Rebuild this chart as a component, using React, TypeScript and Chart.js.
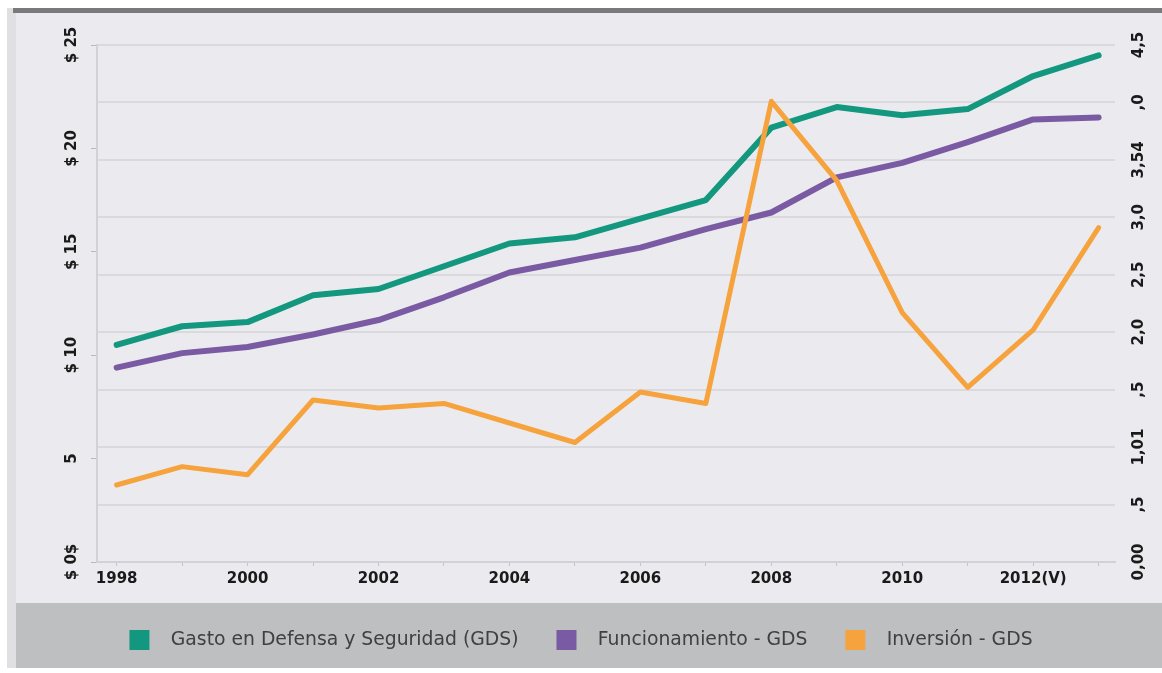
import React, { useEffect, useRef } from 'react';
import { Chart, registerables } from 'chart.js';

Chart.register(...registerables);

// ---- data ----
const years = [1998, 1999, 2000, 2001, 2002, 2003, 2004, 2005, 2006, 2007, 2008, 2009, 2010, 2011, 2012, 2013];
const gastoDefensaSeguridad = [10.5, 11.4, 11.6, 12.9, 13.2, 14.3, 15.4, 15.7, 16.6, 17.5, 21.0, 22.0, 21.6, 21.9, 23.5, 24.5];
const funcionamiento = [9.4, 10.1, 10.4, 11.0, 11.7, 12.8, 14.0, 14.6, 15.2, 16.1, 16.9, 18.6, 19.3, 20.3, 21.4, 21.5];
const inversion = [0.67, 0.83, 0.76, 1.41, 1.34, 1.38, 1.21, 1.04, 1.48, 1.38, 4.01, 3.32, 2.17, 1.52, 2.02, 2.91];

const seriesLabels = ['Gasto en Defensa y Seguridad (GDS)', 'Funcionamiento - GDS', 'Inversión - GDS'];

const xLabelYears = [1998, 2000, 2002, 2004, 2006, 2008, 2010, 2012];
const xLabels = ['1998', '2000', '2002', '2004', '2006', '2008', '2010', '2012(V)'];

const leftTickValues = [0, 5, 10, 15, 20, 25];
const leftTickLabels = ['$ 0$', '5', '$ 10', '$ 15', '$ 20', '$ 25'];

const rightTickValues = [0, 0.5, 1, 1.5, 2, 2.5, 3, 3.5, 4, 4.5];
const rightTickLabels = ['0,00', ',5', '1,01', ',5', '2,0', '2,5', '3,0', '3,54', ',0', '4,5'];

// ---- styles ----
const GREEN = '#13977e';
const PURPLE = '#7a5aa2';
const ORANGE = '#f6a23d';

const bgPlugin = {
  id: 'panelBackground',
  beforeDraw(chart: any) {
    const { ctx, width, height } = chart;
    ctx.save();
    ctx.fillStyle = '#ffffff';
    ctx.fillRect(0, 0, width, height);
    ctx.fillStyle = '#ebebef';
    ctx.fillRect(7, 8, width - 7, 600);
    ctx.fillStyle = '#e0e0e2';
    ctx.fillRect(7, 8, 9, 660);
    ctx.fillStyle = '#7a7a7a';
    ctx.fillRect(13, 8, width - 13, 5);
    ctx.fillStyle = '#bdbfc1';
    ctx.fillRect(16, 603, width - 16, 65);
    ctx.restore();
  },
};

export default function App() {
  const canvasRef = useRef<HTMLCanvasElement | null>(null);

  useEffect(() => {
    if (!canvasRef.current) return;
    const mk = (vals: number[]) => years.map((x, i) => ({ x, y: vals[i] }));
    const tickFont = { family: 'DejaVu Sans', size: 15, weight: 'bold' as const };

    const chart = new Chart(canvasRef.current, {
      type: 'line',
      data: {
        datasets: [
          {
            label: seriesLabels[0],
            data: mk(gastoDefensaSeguridad),
            borderColor: GREEN,
            backgroundColor: GREEN,
            borderWidth: 6,
            yAxisID: 'y',
            order: 1,
          },
          {
            label: seriesLabels[1],
            data: mk(funcionamiento),
            borderColor: PURPLE,
            backgroundColor: PURPLE,
            borderWidth: 6,
            yAxisID: 'y',
            order: 2,
          },
          {
            label: seriesLabels[2],
            data: mk(inversion),
            borderColor: ORANGE,
            backgroundColor: ORANGE,
            borderWidth: 5,
            yAxisID: 'y1',
            order: 0,
          },
        ],
      },
      options: {
        responsive: false,
        animation: false,
        events: [],
        layout: { padding: { top: 45, left: 0, right: 0, bottom: 13 } },
        elements: {
          point: { radius: 0 },
          line: { tension: 0, borderJoinStyle: 'round', borderCapStyle: 'round' },
        },
        plugins: {
          tooltip: { enabled: false },
          legend: {
            position: 'bottom',
            labels: {
              boxWidth: 20,
              boxHeight: 20,
              padding: 38,
              color: '#404040',
              font: { family: 'DejaVu Sans', size: 18.8 },
              sort: (a: any, b: any) => a.datasetIndex - b.datasetIndex,
              generateLabels: (c: any) => {
                const items = Chart.defaults.plugins.legend.labels.generateLabels(c);
                return items.map((it: any) => ({ ...it, text: '  ' + it.text, lineWidth: 0 }));
              },
            },
          },
        },
        scales: {
          x: {
            type: 'linear',
            position: 'bottom',
            min: 1997.7,
            max: 2013.25,
            afterBuildTicks: (s: any) => {
              s.ticks = years.map((v) => ({ value: v }));
            },
            afterFit: (s: any) => {
              s.height = 30;
            },
            ticks: {
              autoSkip: false,
              maxRotation: 0,
              minRotation: 0,
              padding: 4,
              color: '#1a1a1a',
              font: tickFont,
              callback: (v: any) => {
                const i = xLabelYears.indexOf(Number(v));
                return i >= 0 ? xLabels[i] : '';
              },
            },
            grid: { drawOnChartArea: false, drawTicks: true, tickLength: 4, color: '#c4c4c8' },
            border: { display: true, color: '#d2d2d6', width: 2 },
          },
          y: {
            type: 'linear',
            position: 'left',
            min: 0,
            max: 25,
            afterBuildTicks: (s: any) => {
              s.ticks = leftTickValues.map((v) => ({ value: v }));
            },
            afterFit: (s: any) => {
              s.width = 97;
            },
            ticks: {
              autoSkip: false,
              minRotation: 90,
              maxRotation: 90,
              crossAlign: 'center',
              padding: 1,
              color: '#1a1a1a',
              font: tickFont,
              callback: (_v: any, i: number) => leftTickLabels[i],
            },
            grid: { drawOnChartArea: false, drawTicks: true, tickLength: 6, color: '#b8b8bc' },
            border: { display: true, color: '#d2d2d6', width: 2 },
          },
          y1: {
            type: 'linear',
            position: 'right',
            min: 0,
            max: 4.5,
            afterBuildTicks: (s: any) => {
              s.ticks = rightTickValues.map((v) => ({ value: v }));
            },
            afterFit: (s: any) => {
              s.width = 47;
            },
            ticks: {
              autoSkip: false,
              minRotation: 90,
              maxRotation: 90,
              crossAlign: 'center',
              padding: 6,
              color: '#1a1a1a',
              font: tickFont,
              callback: (_v: any, i: number) => rightTickLabels[i],
            },
            grid: { drawOnChartArea: true, drawTicks: false, color: '#dadade', lineWidth: 2 },
            border: { display: false },
          },
        },
      },
      plugins: [bgPlugin],
    } as any);

    return () => chart.destroy();
  }, []);

  return (
    <div style={{ position: 'fixed', left: 0, top: 0, width: 1162, height: 673 }}>
      <canvas ref={canvasRef} width={1162} height={673} style={{ display: 'block' }} />
    </div>
  );
}
